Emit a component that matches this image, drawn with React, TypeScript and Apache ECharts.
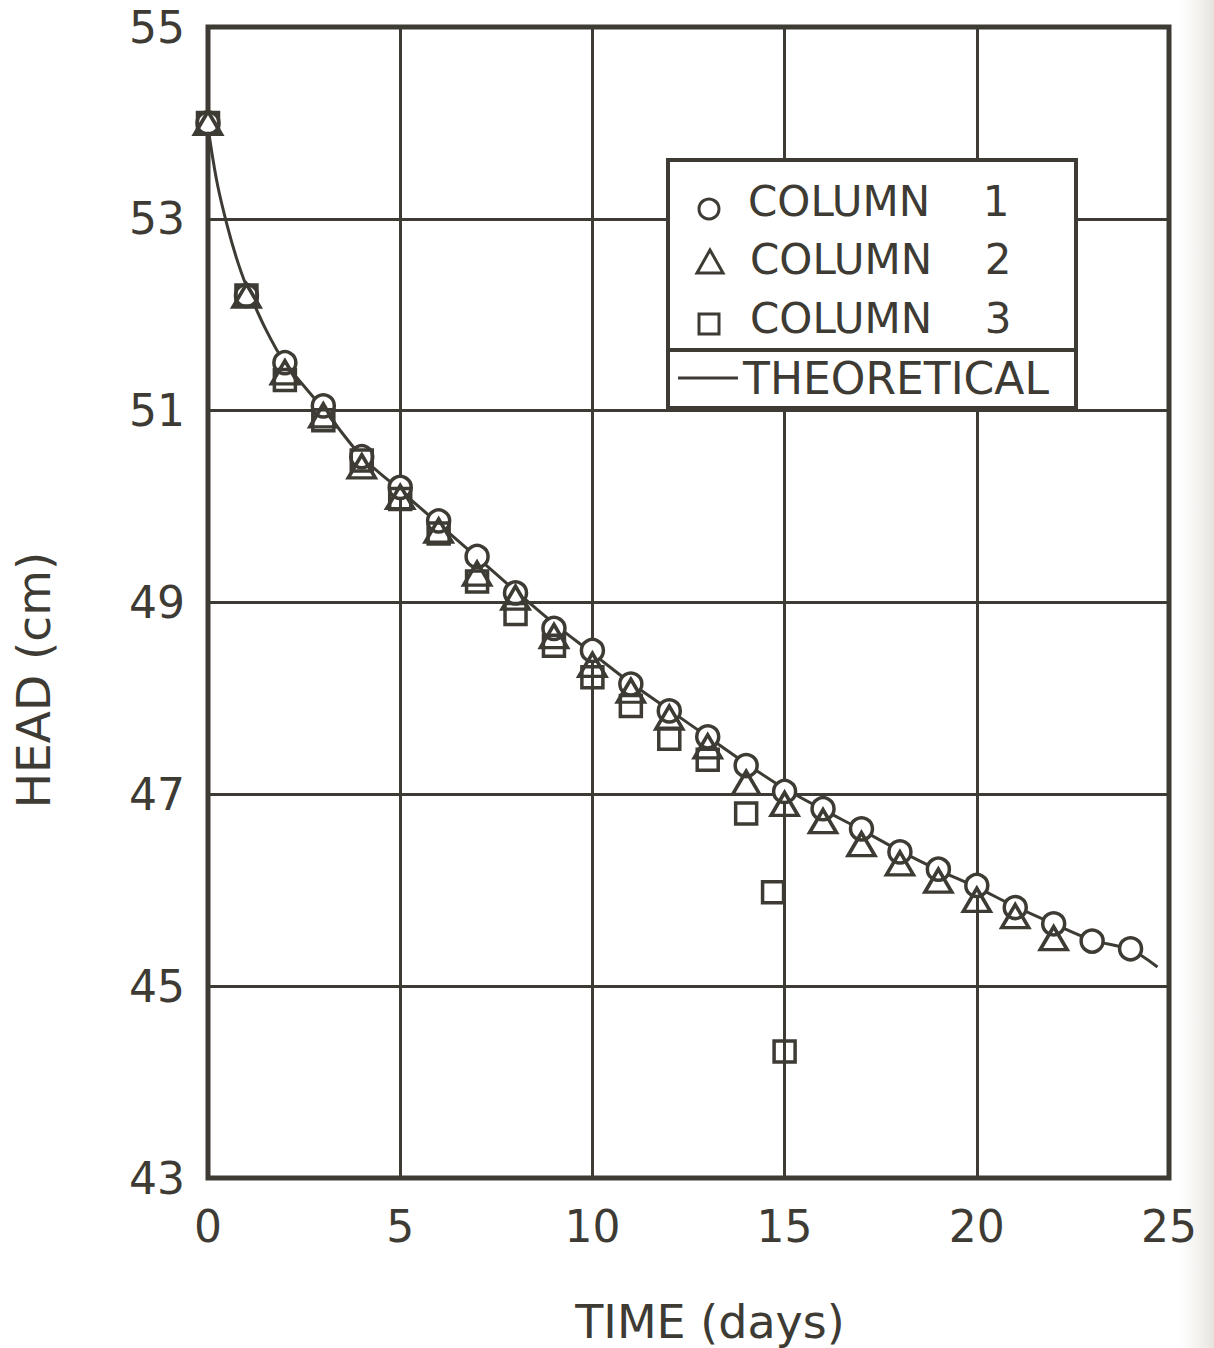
import React, { useEffect, useRef } from "react";
import * as echarts from "echarts";

// Observed head in each soil column, sampled daily
const col1Days = [0, 1, 2, 3, 4, 5, 6, 7, 8, 9, 10, 11, 12, 13, 14, 15, 16, 17, 18, 19, 20, 21, 22, 23, 24];
const col1Head = [54.0, 52.2, 51.5, 51.05, 50.52, 50.2, 49.85, 49.48, 49.1, 48.73, 48.5, 48.15, 47.87, 47.6, 47.3, 47.03, 46.85, 46.64, 46.4, 46.22, 46.05, 45.82, 45.65, 45.47, 45.39];

const col2Days = [0, 1, 2, 3, 4, 5, 6, 7, 8, 9, 10, 11, 12, 13, 14, 15, 16, 17, 18, 19, 20, 21, 22];
const col2Head = [54.0, 52.2, 51.4, 50.95, 50.42, 50.1, 49.75, 49.3, 49.05, 48.65, 48.35, 48.08, 47.8, 47.5, 47.12, 46.9, 46.72, 46.48, 46.28, 46.1, 45.9, 45.73, 45.5];

const col3Days = [0, 1, 2, 3, 4, 5, 6, 7, 8, 9, 10, 11, 12, 13, 14, 14.7, 15];
const col3Head = [54.0, 52.2, 51.32, 50.9, 50.48, 50.08, 49.72, 49.22, 48.88, 48.55, 48.22, 47.92, 47.58, 47.36, 46.8, 45.98, 44.32];

// Theoretical drawdown curve
const theoDays = [0, 0.05, 0.25, 0.5, 0.75, 1, 1.5, 2, 3, 4, 5, 6, 7, 8, 9, 10, 11, 12, 13, 14, 15, 16, 17, 18, 19, 20, 21, 22, 23, 24, 24.7];
const theoHead = [54.0, 53.82, 53.35, 52.93, 52.58, 52.3, 51.85, 51.5, 51.02, 50.52, 50.17, 49.82, 49.47, 49.12, 48.78, 48.47, 48.16, 47.88, 47.6, 47.32, 47.06, 46.84, 46.63, 46.41, 46.21, 46.03, 45.83, 45.65, 45.48, 45.38, 45.2];

// Axis ranges
const xMin = 0, xMax = 25, xStep = 5;
const yMin = 43, yMax = 55, yStep = 2;

const seriesNames = ["COLUMN 1", "COLUMN 2", "COLUMN 3", "THEORETICAL"];

const INK = "#3d3b34";
const FONT = "DejaVu Sans";

const pairs = (xs: number[], ys: number[]) => xs.map((x, i) => [x, ys[i]]);

export default function App() {
  const ref = useRef<HTMLDivElement>(null);

  useEffect(() => {
    if (!ref.current) return;
    const chart = echarts.init(ref.current, undefined, { renderer: "svg" });

    const lx = 668, ly = 160, lw = 408, lh = 248;
    const txt = (x: number, y: number, text: string, align = "left", size = 42) => ({
      type: "text",
      x,
      y,
      z: 101,
      style: { text, fill: INK, font: `${size}px "${FONT}"`, align, verticalAlign: "middle" },
    });

    chart.setOption({
      animation: false,
      backgroundColor: "#ffffff",
      grid: {
        left: 208,
        right: 45,
        top: 27,
        bottom: 170,
        show: true,
        borderColor: INK,
        borderWidth: 5,
        backgroundColor: "transparent",
      },
      xAxis: {
        type: "value",
        min: xMin,
        max: xMax,
        interval: xStep,
        axisLine: { show: false },
        axisTick: { show: false },
        splitLine: { show: true, lineStyle: { color: INK, width: 3 } },
        axisLabel: { color: INK, fontSize: 44, fontFamily: FONT, margin: 26 },
      },
      yAxis: {
        type: "value",
        min: yMin,
        max: yMax,
        interval: yStep,
        axisLine: { show: false },
        axisTick: { show: false },
        splitLine: { show: true, lineStyle: { color: INK, width: 3 } },
        axisLabel: { color: INK, fontSize: 44, fontFamily: FONT, margin: 23 },
      },
      series: [
        {
          name: seriesNames[3],
          type: "line",
          data: pairs(theoDays, theoHead),
          showSymbol: false,
          smooth: 0.3,
          lineStyle: { color: INK, width: 3 },
          z: 1,
        },
        {
          name: seriesNames[0],
          type: "scatter",
          data: pairs(col1Days, col1Head),
          symbol: "circle",
          symbolSize: 22,
          itemStyle: { color: "#ffffff", borderColor: INK, borderWidth: 3.5, opacity: 1 },
          z: 2,
        },
        {
          name: seriesNames[2],
          type: "scatter",
          data: pairs(col3Days, col3Head),
          symbol: "rect",
          symbolSize: 21,
          itemStyle: { color: "transparent", borderColor: INK, borderWidth: 3.5, opacity: 1 },
          z: 3,
        },
        {
          name: seriesNames[1],
          type: "scatter",
          data: pairs(col2Days, col2Head),
          symbol: "triangle",
          symbolSize: [27, 23],
          itemStyle: { color: "transparent", borderColor: INK, borderWidth: 3.5, opacity: 1 },
          z: 4,
        },
      ],
      graphic: [
        // faint shading along the right page edge
        {
          type: "rect",
          z: -1,
          shape: { x: 1180, y: 0, width: 34, height: 1348 },
          style: {
            fill: new echarts.graphic.LinearGradient(0, 0, 1, 0, [
              { offset: 0, color: "rgba(232,230,224,0)" },
              { offset: 1, color: "rgba(226,223,215,0.85)" },
            ]),
          },
        },
        // axis titles
        {
          type: "text",
          x: 33,
          y: 680,
          rotation: Math.PI / 2,
          style: { text: "HEAD (cm)", fill: INK, font: `47px "${FONT}"`, align: "center", verticalAlign: "middle" },
        },
        {
          type: "text",
          x: 710,
          y: 1322,
          style: { text: "TIME (days)", fill: INK, font: `46px "${FONT}"`, align: "center", verticalAlign: "middle" },
        },
        // legend box
        {
          type: "rect",
          z: 100,
          shape: { x: lx, y: ly, width: lw, height: lh },
          style: { fill: "#ffffff", stroke: INK, lineWidth: 4 },
        },
        {
          type: "line",
          z: 101,
          shape: { x1: lx, y1: 350, x2: lx + lw, y2: 350 },
          style: { stroke: INK, lineWidth: 4 },
        },
        {
          type: "circle",
          z: 101,
          shape: { cx: 709, cy: 209, r: 10 },
          style: { fill: "#ffffff", stroke: INK, lineWidth: 3 },
        },
        {
          type: "polygon",
          z: 101,
          shape: { points: [[710, 250], [697, 273], [723, 273]] },
          style: { fill: "transparent", stroke: INK, lineWidth: 3 },
        },
        {
          type: "rect",
          z: 101,
          shape: { x: 699, y: 314, width: 20, height: 20 },
          style: { fill: "transparent", stroke: INK, lineWidth: 3 },
        },
        {
          type: "line",
          z: 101,
          shape: { x1: 678, y1: 378, x2: 738, y2: 378 },
          style: { stroke: INK, lineWidth: 3 },
        },
        txt(748, 201, "COLUMN"),
        txt(996, 201, "1", "center"),
        txt(750, 259, "COLUMN"),
        txt(998, 259, "2", "center"),
        txt(750, 318, "COLUMN"),
        txt(998, 318, "3", "center"),
        txt(743, 378, "THEORETICAL", "left", 44),
      ],
    });

    return () => chart.dispose();
  }, []);

  return (
    <div
      ref={ref}
      style={{ position: "absolute", left: 0, top: 0, width: 1214, height: 1348, background: "#ffffff" }}
    />
  );
}
